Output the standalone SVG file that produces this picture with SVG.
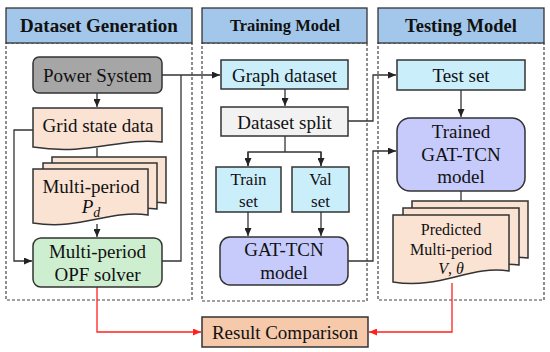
<svg xmlns="http://www.w3.org/2000/svg" width="550" height="352" viewBox="0 0 550 352">
<defs>
<marker id="ab" markerUnits="userSpaceOnUse" markerWidth="8" markerHeight="7" refX="8" refY="3.5" orient="auto"><path d="M0,0 L8,3.5 L0,7 z" fill="#222"/></marker>
<marker id="ar" markerUnits="userSpaceOnUse" markerWidth="8" markerHeight="7" refX="8" refY="3.5" orient="auto"><path d="M0,0 L8,3.5 L0,7 z" fill="#ff2020"/></marker>
<style>
text{font-family:'Liberation Serif','Times New Roman',Tinos,'DejaVu Serif',serif}
.hd{fill:#a3c7ea;stroke:#333;stroke-width:1.3}
.body{fill:none;stroke:#444;stroke-width:1.2;stroke-dasharray:3,2}
.ht{font-weight:bold;text-anchor:middle;fill:#111}
.t{font-size:19px;text-anchor:middle;fill:#111}
.ts{font-size:17px;text-anchor:middle;fill:#111}
.tp{font-size:16px;text-anchor:middle;fill:#111}
.nb{stroke:#333;stroke-width:1.5}
.gray{fill:#a6a6a6}
.peach{fill:#fbe3d4}
.green{fill:#cdeecf}
.blue{fill:#cbeefb}
.lgray{fill:#f2f2f2}
.lav{fill:#c7cbfb}
.res{fill:#f6c9ab}
.c{fill:none;stroke:#333;stroke-width:1.3}
.r{fill:none;stroke:#ff2020;stroke-width:1.3}
</style>
</defs>
<rect width="550" height="352" fill="#fff"/>

<g id="panel-dataset-generation">
<rect class="body" x="6" y="43" width="186" height="257"/>
<rect class="hd" x="6" y="8" width="186" height="35"/>
<text class="ht" x="99" y="32" font-size="19">Dataset Generation</text>
</g>
<g id="panel-training-model">
<rect class="body" x="202" y="43" width="165" height="258"/>
<rect class="hd" x="202" y="8" width="165" height="35"/>
<text class="ht" x="285" y="31" font-size="16.5">Training Model</text>
</g>
<g id="panel-testing-model">
<rect class="body" x="378" y="43" width="166" height="257"/>
<rect class="hd" x="378" y="8" width="166" height="35"/>
<text class="ht" x="461" y="32" font-size="18.5">Testing Model</text>
</g>

<g id="connectors">
<line class="c" x1="97" y1="93" x2="97" y2="107" marker-end="url(#ab)"/>
<line class="c" x1="97" y1="148" x2="97" y2="168" marker-end="url(#ab)"/>
<line class="c" x1="97" y1="224" x2="97" y2="237" marker-end="url(#ab)"/>
<polyline class="c" points="33,130 14,130 14,261 32,261" marker-end="url(#ab)"/>
<line class="c" x1="162" y1="75" x2="220" y2="75" marker-end="url(#ab)"/>
<polyline class="c" points="162,261 181,261 181,75"/>
<line class="c" x1="285" y1="89" x2="285" y2="106" marker-end="url(#ab)"/>
<polyline class="c" points="285,136 285,152"/>
<polyline class="c" points="248,166 248,152 321,152 321,166"/>
<line class="c" x1="248" y1="152" x2="248" y2="166" marker-end="url(#ab)"/>
<line class="c" x1="321" y1="152" x2="321" y2="166" marker-end="url(#ab)"/>
<line class="c" x1="248" y1="212" x2="248" y2="236" marker-end="url(#ab)"/>
<line class="c" x1="321" y1="212" x2="321" y2="236" marker-end="url(#ab)"/>
<polyline class="c" points="348,121 373,121 373,75 396,75" marker-end="url(#ab)"/>
<polyline class="c" points="348,261 373,261 373,151 396,151" marker-end="url(#ab)"/>
<line class="c" x1="461" y1="90" x2="461" y2="117" marker-end="url(#ab)"/>
<line class="c" x1="461" y1="191" x2="461" y2="214" marker-end="url(#ab)"/>
<polyline class="r" points="97,287 97,332 201,332" marker-end="url(#ar)"/>
<polyline class="r" points="452,283 452,332 369,332" marker-end="url(#ar)"/>
</g>

<g id="node-power-system">
<rect class="nb gray" x="33" y="57" width="129" height="36" rx="6"/>
<text class="t" x="97.5" y="82">Power System</text>
</g>
<g id="node-grid-state-data">
<path class="nb peach" d="M33,108 H162 V142 C120,137 90,156 33,147 Z"/>
<text class="t" x="98" y="132">Grid state data</text>
</g>
<g id="node-multi-period-pd">
<path class="nb peach" d="M52,157 H166 V203 C140,199 110,210 52,209 Z"/>
<path class="nb peach" d="M43,163 H157 V209 C131,205 101,216 43,215 Z"/>
<path class="nb peach" d="M33,169 H148 V215 C110,209 80,231 33,223 Z"/>
<text class="t" x="91" y="193">Multi-period</text>
<text class="t" x="91" y="213"><tspan font-style="italic">P</tspan><tspan font-style="italic" font-size="14" dy="4">d</tspan></text>
</g>
<g id="node-opf-solver">
<rect class="nb green" x="33" y="238" width="129" height="49" rx="8"/>
<text class="t" x="97.5" y="258">Multi-period</text>
<text class="t" x="97.5" y="281">OPF solver</text>
</g>

<g id="node-graph-dataset">
<rect class="nb blue" x="221" y="60" width="127" height="29"/>
<text class="t" x="284.5" y="82">Graph dataset</text>
</g>
<g id="node-dataset-split">
<rect class="nb lgray" x="221" y="107" width="127" height="29"/>
<text class="t" x="284.5" y="129">Dataset split</text>
</g>
<g id="node-train-set">
<rect class="nb blue" x="216" y="167" width="65" height="45"/>
<text class="ts" x="248.5" y="185">Train</text>
<text class="ts" x="248.5" y="207">set</text>
</g>
<g id="node-val-set">
<rect class="nb blue" x="292" y="167" width="57" height="45"/>
<text class="ts" x="320.5" y="185">Val</text>
<text class="ts" x="320.5" y="207">set</text>
</g>
<g id="node-gat-tcn-model">
<rect class="nb lav" x="220" y="237" width="128" height="48" rx="10"/>
<text class="t" x="284" y="256">GAT-TCN</text>
<text class="t" x="284" y="279">model</text>
</g>
<g id="node-result-comparison">
<rect class="nb res" x="202" y="317" width="166" height="30"/>
<text class="t" x="285" y="339">Result Comparison</text>
</g>

<g id="node-test-set">
<rect class="nb blue" x="397" y="60" width="128" height="30"/>
<text class="t" x="461" y="82">Test set</text>
</g>
<g id="node-trained-gat-tcn">
<rect class="nb lav" x="397" y="118" width="128" height="73" rx="13"/>
<text class="t" x="461" y="138">Trained</text>
<text class="t" x="461" y="161">GAT-TCN</text>
<text class="t" x="461" y="183">model</text>
</g>
<g id="node-predicted">
<path class="nb peach" d="M412,201 H528 V258 C500,254 470,266 412,264 Z"/>
<path class="nb peach" d="M403,208 H519 V265 C491,261 461,273 403,271 Z"/>
<path class="nb peach" d="M393,215 H509 V271 C470,265 440,290 393,282 Z"/>
<text class="tp" x="451" y="235">Predicted</text>
<text class="tp" x="451" y="255">Multi-period</text>
<text class="tp" x="451" y="274" font-style="italic">V<tspan font-style="normal">,</tspan> θ</text>
</g>
</svg>
